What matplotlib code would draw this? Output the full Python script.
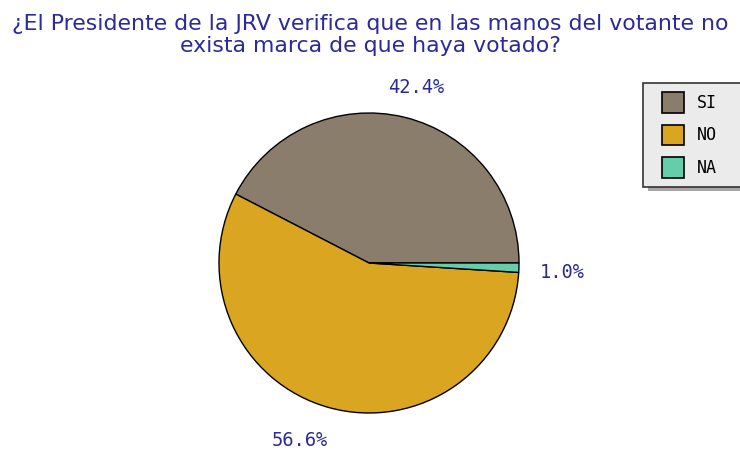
import matplotlib
matplotlib.use("Agg")
import matplotlib.pyplot as plt
from matplotlib.patches import Rectangle, Wedge
from matplotlib.legend_handler import HandlerPatch
import numpy as np

# data
labels = ["SI", "NO", "NA"]
values = [42.4, 56.6, 1.0]
colors = ["#8b7d6b", "#daa520", "#66cdaa"]
title = "¿El Presidente de la JRV verifica que en las manos del votante no\nexista marca de que haya votado?"
text_color = "#2a2a9a"

W, H = 740, 454
fig = plt.figure(figsize=(W / 100, H / 100), dpi=100)
fig.patch.set_facecolor("white")

# pie axes placed in pixel box: x 219..519, y 113..413 (from top)
ax = fig.add_axes([219 / W, 1 - 413 / H, 300 / W, 300 / H])
wedges, _ = ax.pie(values, colors=colors, startangle=0, counterclock=True,
                   radius=1.0, wedgeprops=dict(edgecolor="black", linewidth=1.0))
ax.set_xlim(-1, 1)
ax.set_ylim(-1, 1)
ax.set_aspect("equal")
ax.axis("off")

# percentage labels
label_ang = [75.0, 248.7, -2.7]
label_rad = [1.21, 1.27, 1.29]
for v, a, r in zip(values, label_ang, label_rad):
    t = np.deg2rad(a)
    ax.text(r * np.cos(t), r * np.sin(t), f"{v:.1f}%", ha="center", va="center",
            fontsize=13.5, family="DejaVu Sans Mono", color=text_color, clip_on=False)

fig.text(0.5, 1 - 35 / H, title, ha="center", va="center", fontsize=15.8,
         family="DejaVu Sans", color=text_color, linespacing=1.17)

# legend box runs off the right edge in the reference: draw frame + shadow by hand
px = lambda x, y: (x / W, 1 - y / H)
fig.patches.append(Rectangle(px(648, 191), 120 / W, 104 / H, transform=fig.transFigure,
                             facecolor="#a8a8a8", edgecolor="none", zorder=1))
fig.patches.append(Rectangle(px(643, 187), 120 / W, 104 / H, transform=fig.transFigure,
                             facecolor="#ebebeb", edgecolor="#333333", linewidth=1.2, zorder=2))

leg = fig.legend(wedges, labels, loc="upper left", bbox_to_anchor=(644 / W, 1 - 84 / H),
                 frameon=False, prop=dict(family="DejaVu Sans Mono", size=12),
                 handlelength=1.9, handleheight=1.55, labelspacing=0.68, borderpad=0.5,
                 handletextpad=0.75, borderaxespad=0,
                 handler_map={Wedge: HandlerPatch(xpad=0.6)})
leg.set_zorder(3)
for h in leg.legend_handles:
    h.set_edgecolor("black")
    h.set_linewidth(1.2)

fig.savefig("out.png", dpi=100)
